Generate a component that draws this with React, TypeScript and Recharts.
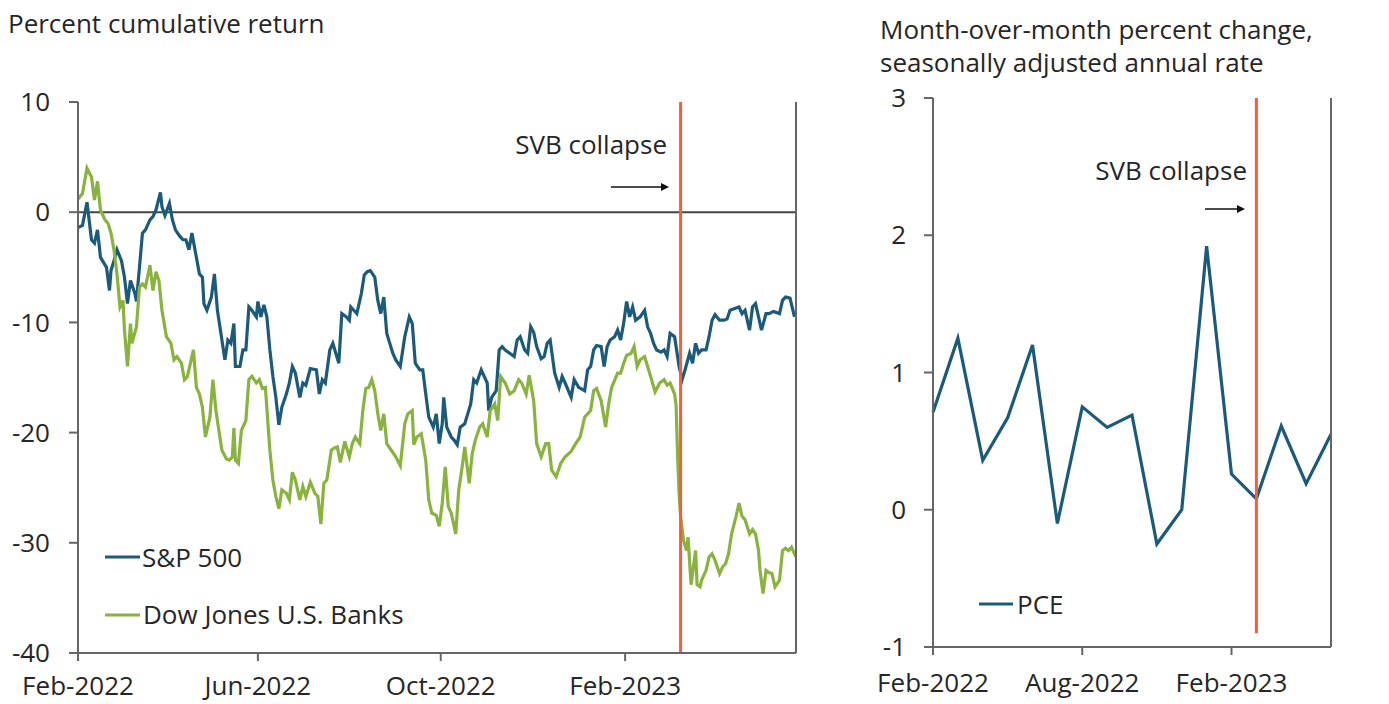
import React from "react";
import { LineChart, Line, XAxis, YAxis, ReferenceLine } from "recharts";

const FONT = "'Open Sans', 'Noto Sans', sans-serif";
const FS = 26;
const TEXT = "#262626";
const BLUE = "#1c5a7a";
const GREEN = "#8ab23e";
const RED = "#fb5b39";
const AXIS = "#666666";

// ---------- Left panel data (percent cumulative return) ----------
const spDates = [
  "2022-02-01","2022-02-04","2022-02-07","2022-02-10","2022-02-12","2022-02-14","2022-02-16","2022-02-20","2022-02-22","2022-02-23",
  "2022-02-25","2022-02-27","2022-03-02","2022-03-04","2022-03-06","2022-03-08","2022-03-11","2022-03-12","2022-03-14","2022-03-16",
  "2022-03-18","2022-03-21","2022-03-23","2022-03-25","2022-03-28","2022-03-29","2022-03-31","2022-04-03","2022-04-05","2022-04-07",
  "2022-04-10","2022-04-12","2022-04-14","2022-04-16","2022-04-18","2022-04-23","2022-04-25","2022-04-26","2022-04-28","2022-05-01",
  "2022-05-03","2022-05-05","2022-05-07","2022-05-10","2022-05-12","2022-05-14","2022-05-16","2022-05-17","2022-05-20","2022-05-22",
  "2022-05-24","2022-05-26","2022-05-28","2022-05-31","2022-06-01","2022-06-03","2022-06-05","2022-06-07","2022-06-09","2022-06-11",
  "2022-06-13","2022-06-15","2022-06-17","2022-06-20","2022-06-22","2022-06-24","2022-06-26","2022-06-29","2022-07-01","2022-07-03",
  "2022-07-06","2022-07-10","2022-07-12","2022-07-14","2022-07-16","2022-07-19","2022-07-21","2022-07-23","2022-07-25","2022-07-27",
  "2022-07-30","2022-08-01","2022-08-02","2022-08-04","2022-08-06","2022-08-09","2022-08-11","2022-08-13","2022-08-15","2022-08-18",
  "2022-08-20","2022-08-22","2022-08-24","2022-08-26","2022-08-28","2022-08-30","2022-09-01","2022-09-04","2022-09-07","2022-09-10",
  "2022-09-12","2022-09-14","2022-09-17","2022-09-19","2022-09-21","2022-09-23","2022-09-26","2022-09-28","2022-09-30","2022-10-02",
  "2022-10-03","2022-10-05","2022-10-08","2022-10-10","2022-10-12","2022-10-14","2022-10-17","2022-10-19","2022-10-21","2022-10-23",
  "2022-10-25","2022-10-28","2022-10-30","2022-11-01","2022-11-02","2022-11-04","2022-11-07","2022-11-09","2022-11-11","2022-11-13",
  "2022-11-16","2022-11-19","2022-11-21","2022-11-23","2022-11-26","2022-11-28","2022-11-30","2022-12-02","2022-12-04","2022-12-07",
  "2022-12-09","2022-12-11","2022-12-13","2022-12-16","2022-12-19","2022-12-21","2022-12-23","2022-12-27","2022-12-29","2023-01-01",
  "2023-01-05","2023-01-07","2023-01-09","2023-01-11","2023-01-13","2023-01-16","2023-01-18","2023-01-20","2023-01-22","2023-01-25",
  "2023-01-27","2023-01-29","2023-01-31","2023-02-02","2023-02-04","2023-02-06","2023-02-08","2023-02-11","2023-02-14","2023-02-16",
  "2023-02-18","2023-02-20","2023-02-22","2023-02-25","2023-02-27","2023-03-01","2023-03-03","2023-03-06","2023-03-08","2023-03-09",
  "2023-03-11","2023-03-13","2023-03-16","2023-03-18","2023-03-20","2023-03-22","2023-03-24","2023-03-27","2023-03-29","2023-03-31",
  "2023-04-02","2023-04-05","2023-04-08","2023-04-10","2023-04-12","2023-04-16","2023-04-18","2023-04-20","2023-04-22","2023-04-25",
  "2023-04-27","2023-04-29","2023-05-01","2023-05-03","2023-05-06","2023-05-08","2023-05-11","2023-05-15","2023-05-17","2023-05-19",
  "2023-05-22","2023-05-25",
];
const spValues = [
  -1.4,-1.2,0.9,-2.5,-2.8,-1.6,-4.1,-5.0,-7.1,-5.3,
  -4.4,-3.4,-4.4,-5.9,-8.3,-6.2,-7.4,-8.1,-5.0,-1.9,
  -1.6,-0.7,-0.4,0.2,1.8,0.5,-0.3,0.8,-0.7,-1.6,
  -2.2,-2.5,-2.5,-3.4,-1.9,-5.6,-5.9,-8.3,-8.9,-7.7,
  -5.6,-8.9,-10.7,-13.4,-11.6,-11.9,-10.1,-14.0,-14.0,-12.5,
  -12.5,-8.6,-8.9,-9.5,-8.1,-9.5,-8.4,-9.5,-12.5,-14.9,
  -16.8,-19.3,-17.7,-16.5,-15.5,-14.0,-14.6,-16.8,-15.5,-15.7,
  -14.2,-14.3,-16.5,-15.2,-15.5,-12.5,-11.9,-12.8,-13.7,-9.2,
  -9.5,-9.8,-8.6,-8.9,-9.2,-7.4,-5.7,-5.4,-5.3,-5.9,
  -8.0,-9.2,-7.7,-11.0,-11.9,-12.8,-13.4,-14.0,-11.3,-9.5,
  -10.1,-13.7,-14.3,-14.3,-16.5,-18.6,-19.5,-18.3,-21.0,-19.2,
  -16.8,-19.5,-20.4,-20.7,-21.1,-19.5,-19.2,-18.3,-17.4,-15.2,
  -15.5,-14.3,-14.9,-15.5,-18.0,-16.8,-16.2,-12.5,-12.2,-12.5,
  -12.8,-13.1,-11.6,-11.3,-12.5,-12.8,-10.4,-10.9,-12.2,-13.3,
  -13.1,-11.9,-11.6,-14.6,-15.9,-14.9,-15.5,-16.8,-15.2,-15.9,
  -16.2,-14.3,-14.0,-12.5,-12.1,-12.2,-14.0,-12.2,-11.6,-11.3,
  -10.7,-11.6,-10.1,-8.1,-9.5,-8.6,-9.8,-9.5,-8.9,-10.4,
  -11.0,-11.9,-12.5,-12.7,-12.5,-13.1,-11.0,-11.3,-13.1,-14.0,
  -15.2,-14.3,-12.8,-13.7,-11.9,-12.8,-12.5,-12.5,-11.3,-9.8,
  -9.3,-9.8,-9.8,-9.7,-8.9,-8.7,-8.6,-9.2,-8.9,-10.7,
  -8.6,-8.3,-9.5,-10.7,-9.2,-9.2,-9.0,-9.2,-8.0,-7.7,
  -7.8,-9.5,
];

const bankDates = [
  "2022-02-01","2022-02-04","2022-02-07","2022-02-10","2022-02-12","2022-02-14","2022-02-16","2022-02-19","2022-02-21","2022-02-23",
  "2022-02-25","2022-02-27","2022-03-01","2022-03-03","2022-03-04","2022-03-06","2022-03-08","2022-03-09","2022-03-12","2022-03-14",
  "2022-03-16","2022-03-18","2022-03-21","2022-03-23","2022-03-25","2022-03-27","2022-03-29","2022-04-01","2022-04-04","2022-04-06",
  "2022-04-08","2022-04-11","2022-04-13","2022-04-15","2022-04-17","2022-04-19","2022-04-21","2022-04-23","2022-04-25","2022-04-27",
  "2022-04-30","2022-05-02","2022-05-04","2022-05-06","2022-05-08","2022-05-11","2022-05-13","2022-05-15","2022-05-16","2022-05-17",
  "2022-05-19","2022-05-21","2022-05-24","2022-05-26","2022-05-28","2022-05-31","2022-06-02","2022-06-04","2022-06-06","2022-06-09",
  "2022-06-11","2022-06-13","2022-06-15","2022-06-17","2022-06-20","2022-06-22","2022-06-24","2022-06-26","2022-06-29","2022-07-01",
  "2022-07-03","2022-07-06","2022-07-09","2022-07-11","2022-07-13","2022-07-15","2022-07-17","2022-07-20","2022-07-22","2022-07-24",
  "2022-07-26","2022-07-29","2022-08-01","2022-08-03","2022-08-05","2022-08-08","2022-08-10","2022-08-12","2022-08-14","2022-08-16",
  "2022-08-18","2022-08-20","2022-08-22","2022-08-24","2022-08-26","2022-08-29","2022-09-01","2022-09-04","2022-09-07","2022-09-09",
  "2022-09-12","2022-09-13","2022-09-15","2022-09-18","2022-09-21","2022-09-23","2022-09-25","2022-09-28","2022-09-30","2022-10-02",
  "2022-10-04","2022-10-06","2022-10-08","2022-10-11","2022-10-13","2022-10-15","2022-10-17","2022-10-20","2022-10-22","2022-10-24",
  "2022-10-27","2022-10-29","2022-11-01","2022-11-03","2022-11-06","2022-11-08","2022-11-10","2022-11-13","2022-11-16","2022-11-19",
  "2022-11-22","2022-11-24","2022-11-27","2022-11-29","2022-12-02","2022-12-04","2022-12-07","2022-12-10","2022-12-12","2022-12-14",
  "2022-12-17","2022-12-20","2022-12-23","2022-12-27","2022-12-30","2023-01-02","2023-01-05","2023-01-07","2023-01-09","2023-01-11",
  "2023-01-13","2023-01-16","2023-01-19","2023-01-21","2023-01-23","2023-01-27","2023-01-29","2023-01-31","2023-02-02","2023-02-05",
  "2023-02-07","2023-02-09","2023-02-11","2023-02-14","2023-02-16","2023-02-18","2023-02-21","2023-02-24","2023-02-27","2023-03-01",
  "2023-03-03","2023-03-06","2023-03-07","2023-03-08","2023-03-09","2023-03-10","2023-03-12","2023-03-14","2023-03-15","2023-03-17",
  "2023-03-20","2023-03-21","2023-03-23","2023-03-24","2023-03-27","2023-03-29","2023-03-31","2023-04-02","2023-04-05","2023-04-07",
  "2023-04-09","2023-04-11","2023-04-13","2023-04-16","2023-04-18","2023-04-20","2023-04-22","2023-04-25","2023-04-27","2023-04-29",
  "2023-05-01","2023-05-02","2023-05-04","2023-05-06","2023-05-08","2023-05-10","2023-05-12","2023-05-15","2023-05-17","2023-05-19",
  "2023-05-21","2023-05-23","2023-05-26",
];
const bankValues = [
  1.2,1.7,4.0,3.2,1.1,2.8,0.2,-0.7,-1.0,-1.9,
  -3.4,-5.6,-8.6,-8.0,-10.7,-14.0,-10.1,-11.9,-10.4,-6.8,
  -6.5,-6.8,-4.8,-7.1,-5.4,-6.2,-8.9,-11.3,-11.9,-13.4,
  -13.1,-13.7,-15.2,-14.9,-13.7,-12.5,-15.9,-16.5,-17.7,-20.4,
  -18.6,-15.2,-18.0,-19.8,-21.6,-22.4,-22.5,-22.2,-19.6,-22.5,
  -22.8,-19.8,-18.9,-15.2,-14.9,-15.5,-15.2,-16.0,-15.9,-21.6,
  -24.3,-25.8,-26.9,-25.2,-25.5,-26.1,-23.6,-24.3,-26.1,-24.9,
  -25.8,-24.5,-25.5,-25.8,-28.3,-24.6,-24.3,-21.6,-21.4,-21.3,
  -22.7,-20.8,-22.2,-21.0,-20.4,-21.0,-18.0,-16.0,-15.9,-15.2,
  -16.2,-18.3,-19.8,-18.3,-21.0,-21.6,-22.2,-23.0,-19.2,-18.3,
  -18.0,-21.1,-20.4,-20.1,-22.5,-26.1,-27.3,-27.5,-28.5,-26.4,
  -23.1,-26.7,-27.3,-29.2,-25.2,-23.4,-21.3,-24.6,-21.9,-20.7,
  -19.5,-19.2,-20.4,-18.0,-17.4,-18.9,-14.9,-15.5,-16.5,-16.2,
  -15.2,-15.5,-16.5,-14.8,-17.1,-21.0,-22.2,-21.0,-21.0,-23.4,
  -24.0,-22.8,-22.2,-21.7,-21.0,-20.4,-18.6,-18.3,-18.0,-16.2,
  -16.0,-17.1,-19.5,-17.4,-15.9,-14.6,-14.6,-13.7,-13.0,-12.8,
  -12.2,-14.0,-13.4,-13.1,-14.0,-14.9,-16.3,-15.5,-15.2,-15.7,
  -15.5,-16.5,-17.5,-22.0,-25.5,-27.6,-29.8,-30.7,-29.5,-33.8,
  -30.7,-33.8,-34.0,-33.4,-32.5,-31.3,-31.0,-31.6,-32.8,-32.2,
  -31.9,-31.0,-29.2,-27.6,-26.4,-27.6,-27.9,-29.2,-28.8,-29.2,
  -30.7,-32.5,-34.6,-32.5,-32.7,-32.8,-34.0,-33.4,-30.7,-30.5,
  -30.7,-30.4,-31.3,
];

const leftDomainDates = ["2022-02-01", "2023-05-26"];
const leftTickDates = ["2022-02-01", "2022-06-01", "2022-10-01", "2023-02-01"];
const leftTickLabels = ["Feb-2022", "Jun-2022", "Oct-2022", "Feb-2023"];
const leftYTicks = [10, 0, -10, -20, -30, -40];
const svbDate = "2023-03-10";

// ---------- Right panel data (PCE) ----------
const pceMonths = [
  "Feb-2022","Mar-2022","Apr-2022","May-2022","Jun-2022","Jul-2022","Aug-2022","Sep-2022","Oct-2022",
  "Nov-2022","Dec-2022","Jan-2023","Feb-2023","Mar-2023","Apr-2023","May-2023","Jun-2023",
];
const pceValues = [0.71, 1.25, 0.36, 0.67, 1.2, -0.1, 0.75, 0.6, 0.69, -0.25, 0.0, 1.92, 0.26, 0.08, 0.61, 0.19, 0.55];
const rightTickMonths = ["Feb-2022", "Aug-2022", "Feb-2023"];
const rightYTicks = [3, 2, 1, 0, -1];
const svbMonth = "Mar-2023";
const svbLineRange = [3, -0.9];

const ts = (s: string) => Date.parse(s + "T00:00:00Z");

const spData = spDates.map((d, i) => ({ t: ts(d), v: spValues[i] }));
const bankData = bankDates.map((d, i) => ({ t: ts(d), v: bankValues[i] }));
const pceData = pceMonths.map((m, i) => ({ i, v: pceValues[i] }));

const tickStyle = { fill: TEXT, fontSize: FS, fontFamily: FONT };

function LeftPanel() {
  const tickTs = leftTickDates.map(ts);
  return (
    <LineChart width={860} height={704} margin={{ top: 102, right: 0, bottom: 0, left: 0 }}>
      <XAxis
        type="number"
        dataKey="t"
        domain={[ts(leftDomainDates[0]), ts(leftDomainDates[1])]}
        ticks={tickTs}
        tickFormatter={(v: number) => leftTickLabels[tickTs.indexOf(v)] ?? ""}
        height={51}
        tick={tickStyle}
        tickSize={8}
        tickMargin={16}
        stroke={AXIS}
        strokeWidth={2}
        allowDataOverflow
        interval={0}
      />
      <YAxis
        yAxisId="l"
        orientation="left"
        type="number"
        domain={[-40, 10]}
        ticks={leftYTicks}
        width={78}
        tick={tickStyle}
        tickSize={9}
        tickMargin={19}
        stroke={AXIS}
        strokeWidth={2}
        interval={0}
      />
      <YAxis
        yAxisId="r"
        orientation="right"
        type="number"
        domain={[-40, 10]}
        ticks={leftYTicks}
        width={64}
        tick={tickStyle}
        tickSize={9}
        tickMargin={14}
        stroke={AXIS}
        strokeWidth={2}
        interval={0}
      />
      <ReferenceLine yAxisId="l" y={0} stroke="#454545" strokeWidth={2} />
      <Line
        yAxisId="l"
        data={spData}
        dataKey="v"
        type="linear"
        stroke={BLUE}
        strokeWidth={3.2}
        dot={false}
        isAnimationActive={false}
      />
      <Line
        yAxisId="l"
        data={bankData}
        dataKey="v"
        type="linear"
        stroke={GREEN}
        strokeWidth={3.2}
        dot={false}
        isAnimationActive={false}
      />
      <ReferenceLine yAxisId="l" x={ts(svbDate)} stroke={RED} strokeWidth={3} />
    </LineChart>
  );
}

function RightPanel() {
  const tickIdx = rightTickMonths.map((m) => pceMonths.indexOf(m));
  const svbIdx = pceMonths.indexOf(svbMonth);
  return (
    <LineChart width={529} height={704} margin={{ top: 98, right: 0, bottom: 0, left: 0 }}>
      <XAxis
        type="number"
        dataKey="i"
        domain={[0, pceMonths.length - 1]}
        ticks={tickIdx}
        tickFormatter={(v: number) => pceMonths[v]}
        height={57}
        tick={tickStyle}
        tickSize={8}
        tickMargin={19}
        stroke={AXIS}
        strokeWidth={2}
        interval={0}
      />
      <YAxis
        yAxisId="l"
        orientation="left"
        type="number"
        domain={[-1, 3]}
        ticks={rightYTicks}
        width={73}
        tick={tickStyle}
        tickSize={9}
        tickMargin={18}
        stroke={AXIS}
        strokeWidth={2}
        interval={0}
      />
      <YAxis
        yAxisId="r"
        orientation="right"
        type="number"
        domain={[-1, 3]}
        ticks={rightYTicks}
        width={58}
        tick={tickStyle}
        tickSize={9}
        tickMargin={18}
        stroke={AXIS}
        strokeWidth={2}
        interval={0}
      />
      <Line
        yAxisId="l"
        data={pceData}
        dataKey="v"
        type="linear"
        stroke={BLUE}
        strokeWidth={3.2}
        dot={false}
        isAnimationActive={false}
      />
      <ReferenceLine
        yAxisId="l"
        segment={[
          { x: svbIdx, y: svbLineRange[0] },
          { x: svbIdx, y: svbLineRange[1] },
        ]}
        stroke={RED}
        strokeWidth={3}
      />
    </LineChart>
  );
}

function Arrow({ x1, x2, y }: { x1: number; x2: number; y: number }) {
  return (
    <g>
      <line x1={x1} y1={y} x2={x2 - 6} y2={y} stroke="#111" strokeWidth={1.5} />
      <polygon points={`${x2},${y} ${x2 - 8},${y - 4} ${x2 - 8},${y + 4}`} fill="#111" />
    </g>
  );
}

export default function App() {
  const txt = { fontFamily: FONT, fontSize: FS, fill: TEXT } as const;
  return (
    <div style={{ position: "absolute", left: 0, top: 0, width: 1389, height: 704, background: "#fff", overflow: "hidden" }}>
      <div style={{ position: "absolute", left: 0, top: 0 }}>
        <LeftPanel />
      </div>
      <div style={{ position: "absolute", left: 860, top: 0 }}>
        <RightPanel />
      </div>
      <svg width={1389} height={704} style={{ position: "absolute", left: 0, top: 0, pointerEvents: "none" }}>
        <text x={8} y={33} {...txt}>Percent cumulative return</text>
        <text x={880} y={39} {...txt}>Month-over-month percent change,</text>
        <text x={880} y={72} {...txt}>seasonally adjusted annual rate</text>

        <text x={667} y={154} textAnchor="end" {...txt}>SVB collapse</text>
        <Arrow x1={611} x2={669} y={187} />
        <text x={1247} y={180} textAnchor="end" {...txt}>SVB collapse</text>
        <Arrow x1={1205} x2={1245} y={209} />

        <line x1={105} x2={140} y1={557} y2={557} stroke={BLUE} strokeWidth={3} />
        <text x={142} y={567} {...txt}>S&amp;P 500</text>
        <line x1={105} x2={140} y1={615} y2={615} stroke={GREEN} strokeWidth={3} />
        <text x={143} y={624} {...txt}>Dow Jones U.S. Banks</text>

        <line x1={979} x2={1013} y1={604} y2={604} stroke={BLUE} strokeWidth={3} />
        <text x={1017} y={613.5} {...txt}>PCE</text>
      </svg>
    </div>
  );
}
